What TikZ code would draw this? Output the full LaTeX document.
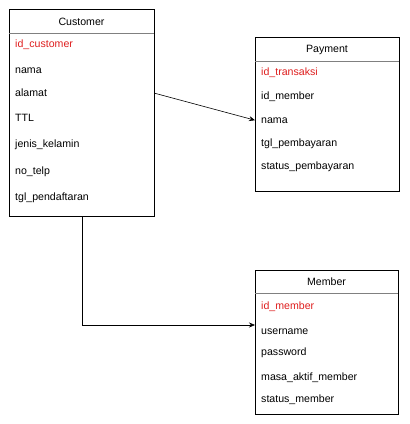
\documentclass[tikz,border=0pt]{standalone}
\usepackage{fontspec}
\setmainfont{Liberation Sans}
\usetikzlibrary{arrows.meta}
\definecolor{keyred}{RGB}{222,30,30}
\tikzset{
  entity/.style={draw, line width=0.6pt, inner sep=0pt, anchor=north west},
  field/.style={anchor=west, inner sep=0pt, yshift=-1.2pt, font=\fontsize{10.6}{12}\selectfont},
  keyfield/.style={field, text=keyred},
  title/.style={inner sep=0pt, yshift=-1pt, font=\fontsize{10.6}{12}\selectfont},
  link/.style={line width=0.6pt, -{Stealth[length=6pt,width=5pt]}}
}
\begin{document}
\begin{tikzpicture}[x=1pt, y=-1pt]
  \useasboundingbox (0,0) rectangle (410,424);
  % Customer
  \node[entity, minimum width=145pt, minimum height=207pt] (customer) at (9,9) {};
  \node[title] at (81.5,21) {Customer};
  \draw[gray, line width=0.6pt] (9,33) -- (154,33);
  \node[keyfield] (c-id) at (15,44) {id\_customer};
  \node[field] (c-nama) at (15,69) {nama};
  \node[field] (c-alamat) at (15,92) {alamat};
  \node[field] (c-ttl) at (15,117) {TTL};
  \node[field] (c-jk) at (15,144) {jenis\_kelamin};
  \node[field] (c-telp) at (15,171) {no\_telp};
  \node[field] (c-tgl) at (15,197) {tgl\_pendaftaran};
  % Payment
  \node[entity, minimum width=144pt, minimum height=154pt] (payment) at (255,37) {};
  \node[title] at (327,49) {Payment};
  \draw[gray, line width=0.6pt] (255,61) -- (399,61);
  \node[keyfield] (p-id) at (261,72) {id\_transaksi};
  \node[field] (p-member) at (261,96) {id\_member};
  \node[field] (p-nama) at (261,119) {nama};
  \node[field] (p-tgl) at (261,143) {tgl\_pembayaran};
  \node[field] (p-status) at (261,166) {status\_pembayaran};
  % Member
  \node[entity, minimum width=143pt, minimum height=144pt] (member) at (255,270) {};
  \node[title] at (326.5,281) {Member};
  \draw[gray, line width=0.6pt] (255,293) -- (398,293);
  \node[keyfield] (m-id) at (261,306) {id\_member};
  \node[field] (m-user) at (261,330) {username};
  \node[field] (m-pass) at (261,352) {password};
  \node[field] (m-masa) at (261,377) {masa\_aktif\_member};
  \node[field] (m-status) at (261,399) {status\_member};
  % relations
  \coordinate (cp-start) at (customer.east |- c-alamat);
  \coordinate (cp-end) at (payment.west |- p-nama);
  \coordinate (cm-end) at (255,325);
  \draw[link] (cp-start) -- (cp-end);
  \draw[link] (customer.south) |- (cm-end);
\end{tikzpicture}
\end{document}
